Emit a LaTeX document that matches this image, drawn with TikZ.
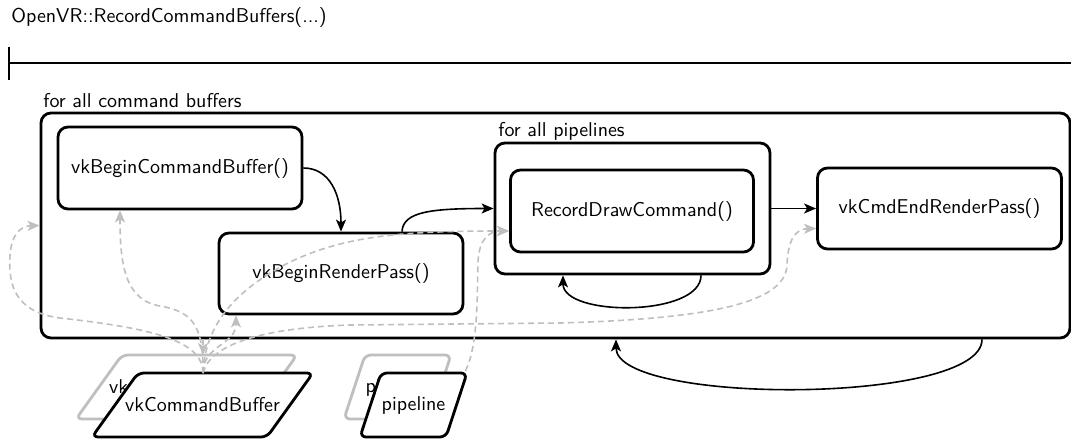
\documentclass[tikz,border=0pt]{standalone}
\usetikzlibrary{arrows.meta,calc}
\begin{document}
\begin{tikzpicture}[x=0.5pt,y=-0.5pt,font=\sffamily,
  box/.style={draw,line width=1.4pt,rounded corners=5pt,fill=white,inner sep=0pt},
  lbl/.style={anchor=west,inner sep=0pt},
  flow/.style={line width=0.8pt,-{Stealth[length=6pt,width=5pt,inset=1.5pt]}},
  dep/.style={draw=black!25,line width=0.8pt,dash pattern=on 3pt off 2pt,-{Stealth[length=6pt,width=5pt,inset=1.5pt,fill=black!25]}},
  para/.style={line width=1.4pt,rounded corners=3pt,fill=white},
  ]
\useasboundingbox (0,0) rectangle (1071,439);
% title and lifeline
\node[lbl] (title) at (11,18) {OpenVR::RecordCommandBuffers(...)};
\coordinate (tl0) at (9,63);
\coordinate (tl1) at (1075,63);
\draw[line width=0.6pt] (tl0) -- (tl1);
\draw[line width=0.6pt] ($(tl0)+(0,-16)$) -- ($(tl0)+(0,17)$);
% outer loop
\node[lbl] (lcb) at (43,101) {for all command buffers};
\node[box,minimum width=514.5pt,minimum height=112.5pt] (outer) at (555.5,225.5) {};
\node[box,minimum width=122pt,minimum height=41pt] (bcb) at (180,168) {vkBeginCommandBuffer()};
\node[box,minimum width=122pt,minimum height=40.5pt] (brp) at (341,273.5) {vkBeginRenderPass()};
\node[lbl] (lpl) at (498,131) {for all pipelines};
\node[box,minimum width=137.5pt,minimum height=65.5pt] (pipes) at (632.5,208.5) {};
\node[box,minimum width=121.5pt,minimum height=41pt] (rdc) at (632,211) {RecordDrawCommand()};
\node[box,minimum width=122pt,minimum height=40.5pt] (ecp) at (939.5,208.5) {vkCmdEndRenderPass()};
% solid flow
\draw[flow] (bcb.east) .. controls (330,168) and (341,195) .. (brp.north);
\coordinate (brpN2) at ($(brp.north)+(61,0)$);
\draw[flow] (brpN2) .. controls (403,212) and (430,208.5) .. (pipes.west);
\draw[flow] (pipes.east) -- (ecp.west);
\coordinate (pl1) at ($(pipes.south)+(68.5,0)$);
\coordinate (pl2) at ($(pipes.south)+(-69.5,0)$);
\draw[flow] (pl1) .. controls (701,317) and (563,317) .. (pl2);
\coordinate (ol1) at ($(outer.south)+(426.5,0)$);
\coordinate (ol2) at ($(outer.south)+(60.5,0)$);
\draw[flow] (ol1) .. controls (982,405) and (616,405) .. (ol2);
% data objects
\coordinate (cbg) at (186.5,387);
\draw[para,draw=black!25] ($(cbg)+(-64.5,-32)$) -- ($(cbg)+(110.5,-32)$) -- ($(cbg)+(64.5,32)$) -- ($(cbg)+(-110.5,32)$) -- cycle;
\node (cbgt) at (cbg) {vkCommandBuffer};
\coordinate (cbc) at (202.5,405);
\draw[para] ($(cbc)+(-64.5,-32)$) -- ($(cbc)+(110.5,-32)$) -- ($(cbc)+(64.5,32)$) -- ($(cbc)+(-110.5,32)$) -- cycle;
\node (cb) at (cbc) {vkCommandBuffer};
\coordinate (plg) at (397.5,387);
\draw[para,draw=black!25] ($(plg)+(-32.5,-32)$) -- ($(plg)+(53.5,-32)$) -- ($(plg)+(32.5,32)$) -- ($(plg)+(-53.5,32)$) -- cycle;
\node (plgt) at (plg) {pipeline};
\coordinate (plc) at (413.5,405);
\draw[para] ($(plc)+(-32.5,-32)$) -- ($(plc)+(53.5,-32)$) -- ($(plc)+(32.5,32)$) -- ($(plc)+(-53.5,32)$) -- cycle;
\node (pl) at (plc) {pipeline};
% dependencies
\coordinate (S) at ($(cb)+(0.5,-32)$);
\coordinate (bcbB) at ($(bcb.south)+(-60,0)$);
\coordinate (brpB) at ($(brp.south)+(-105,0)$);
\coordinate (rdcW) at ($(rdc.west)+(0,20)$);
\coordinate (ecpW) at ($(ecp.west)+(0,20)$);
\coordinate (plS) at ($(pl)+(52,-34)$);
\draw[dep] (S) .. controls (203,340) and (150,328) .. (60,318) .. controls (15,312) and (8,285) .. (10,255) .. controls (12,232) and (22,226) .. (outer.west);
\draw[dep] (S) .. controls (203,328) and (195,312) .. (160,306) .. controls (125,300) and (120,265) .. (bcbB);
\draw[dep] (S) .. controls (203,345) and (236,345) .. (brpB);
\draw[dep] (S) .. controls (205,325) and (235,290) .. (290,262) .. controls (345,236) and (400,231) .. (rdcW);
\draw[dep] (plS) .. controls (478,345) and (477,300) .. (478,262) .. controls (479,238) and (490,231) .. (rdcW);
\draw[dep] (S) .. controls (210,345) and (260,328) .. (350,325) -- (560,323) .. controls (700,319) and (786,305) .. (787,265) .. controls (788,240) and (795,229) .. (ecpW);
\draw[dep] ($(outer.south)+(-352.5,0)$) -- ($(cbg)+(16.5,-32)$);
\end{tikzpicture}
\end{document}
